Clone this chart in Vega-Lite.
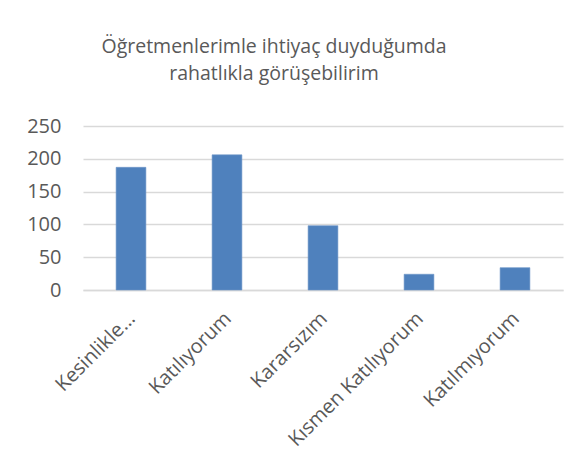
{
  "$schema": "https://vega.github.io/schema/vega-lite/v6.json",
  "width": 480,
  "height": 164,
  "autosize": {"type": "none"},
  "padding": {"left": 83, "top": 126, "right": 24, "bottom": 186},
  "background": "white",
  "config": {"view": {"stroke": null}, "font": "Open Sans"},
  "title": {
    "text": ["Öğretmenlerimle ihtiyaç duyduğumda", "rahatlıkla görüşebilirim"],
    "font": "Open Sans",
    "fontSize": 19.5,
    "fontWeight": "normal",
    "color": "#595959",
    "lineHeight": 27,
    "anchor": "middle",
    "dx": -49,
    "offset": 32
  },
  "data": {
    "values": [
      {"cevap": "Kesinlikle Katılıyorum", "sayi": 187},
      {"cevap": "Katılıyorum", "sayi": 206},
      {"cevap": "Kararsızım", "sayi": 98},
      {"cevap": "Kısmen Katılıyorum", "sayi": 24},
      {"cevap": "Katılmıyorum", "sayi": 34}
    ]
  },
  "mark": {"type": "bar", "color": "#4f81bd", "stroke": "#6d95c8", "strokeWidth": 0.6},
  "encoding": {
    "x": {
      "field": "cevap",
      "type": "nominal",
      "sort": null,
      "title": null,
      "scale": {"paddingInner": 0.69, "paddingOuter": 0.345},
      "axis": {
        "labelAngle": -45,
        "labelAlign": "right",
        "labelBaseline": "top",
        "labelPadding": 18,
        "labelOffset": -6,
        "labelFontSize": 20,
        "labelColor": "#595959",
        "labelFont": "Open Sans",
        "ticks": false,
        "domainColor": "#d9d9d9",
        "domainWidth": 1.3,
        "labelLimit": 300,
        "labelExpr": "datum.label == 'Kesinlikle Katılıyorum' ? 'Kesinlikle...' : datum.label"
      }
    },
    "y": {
      "field": "sayi",
      "type": "quantitative",
      "title": null,
      "scale": {"domain": [0, 250]},
      "axis": {
        "values": [0, 50, 100, 150, 200, 250],
        "domain": false,
        "ticks": false,
        "labelPadding": 22,
        "labelFontSize": 20,
        "labelColor": "#595959",
        "labelFont": "Open Sans",
        "gridColor": "#d9d9d9",
        "gridWidth": 1.3
      }
    }
  }
}
